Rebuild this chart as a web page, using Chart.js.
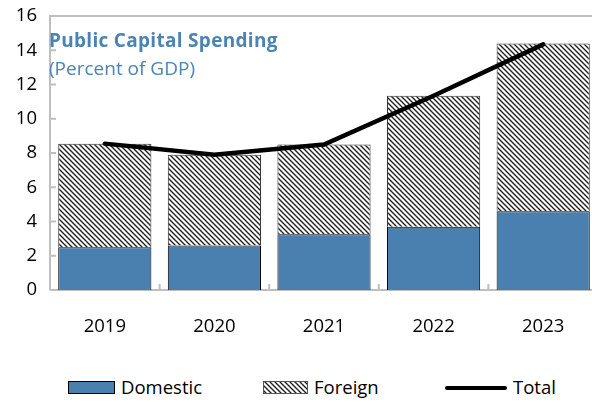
<!DOCTYPE html>
<html>
<head>
<meta charset="utf-8">
<script src="https://cdn.jsdelivr.net/npm/chart.js@4/dist/chart.umd.min.js"></script>
<style>
  html, body { margin: 0; padding: 0; background: #fff; overflow: hidden; }
  body { width: 592px; height: 402px; position: relative; font-family: 'Open Sans', sans-serif; }
  #wrap { position: absolute; left: 0; top: 0; width: 600px; height: 350px; }
  .title { position: absolute; left: 49px; color: #4a84b5; font-size: 19px; white-space: nowrap; }
  .legend { position: absolute; top: 375px; height: 24px; font-size: 18.5px; color: #000; line-height: 24px; white-space: nowrap; }
  .legend canvas { vertical-align: middle; margin-right: 6px; position: relative; top: -2px; }
</style>
</head>
<body>
<div id="wrap"><canvas id="chart"></canvas></div>
<div class="title" style="top:27px;font-weight:bold;letter-spacing:0.3px;">Public Capital Spending</div>
<div class="title" style="top:55px;">(Percent of GDP)</div>
<div class="legend" style="left:68px;"><canvas id="lgDom" width="47" height="14"></canvas>Domestic</div>
<div class="legend" style="left:263px;"><canvas id="lgFor" width="45" height="14"></canvas>Foreign</div>
<div class="legend" style="left:445px;"><canvas id="lgTot" width="62" height="14"></canvas>Total</div>
<script>
const years = ['2019', '2020', '2021', '2022', '2023'];
const domestic = [2.5, 2.6, 3.25, 3.7, 4.6];
const foreign = [6.05, 5.3, 5.25, 7.65, 9.8];
const total = [8.55, 7.9, 8.5, 11.35, 14.35];
const yTicks = [0, 2, 4, 6, 8, 10, 12, 14, 16];

const blue = '#4a80b0';

function hatch() {
  const c = document.createElement('canvas');
  c.width = 5; c.height = 5;
  const g = c.getContext('2d');
  g.fillStyle = '#fff';
  g.fillRect(0, 0, 5, 5);
  g.strokeStyle = '#222';
  g.lineWidth = 1.4;
  g.beginPath();
  g.moveTo(-1, -1); g.lineTo(6, 6);
  g.moveTo(-1, 4); g.lineTo(1, 6);
  g.moveTo(4, -1); g.lineTo(6, 1);
  g.stroke();
  return g.createPattern(c, 'repeat');
}
const hatchFill = hatch();

// legend swatches
(function () {
  let g = document.getElementById('lgDom').getContext('2d');
  g.fillStyle = blue; g.fillRect(0.5, 1.5, 46, 12);
  g.strokeStyle = '#000'; g.lineWidth = 1; g.strokeRect(0.5, 1.5, 46, 12);
  g = document.getElementById('lgFor').getContext('2d');
  g.fillStyle = hatch(); g.fillRect(0.5, 1.5, 44, 12);
  g.strokeStyle = '#555'; g.strokeRect(0.5, 1.5, 44, 12);
  g = document.getElementById('lgTot').getContext('2d');
  g.strokeStyle = '#000'; g.lineWidth = 4; g.lineCap = 'round';
  g.beginPath(); g.moveTo(2, 8); g.lineTo(60, 8); g.stroke();
})();

const frame = {
  id: 'frame',
  beforeDatasetsDraw(chart) {
    const { ctx, chartArea: a, scales } = chart;
    ctx.save();
    ctx.strokeStyle = '#bfbfbf';
    ctx.lineWidth = 2;
    ctx.beginPath();
    ctx.moveTo(a.left, a.bottom); ctx.lineTo(a.left, a.top); ctx.lineTo(a.right + 5, a.top);
    ctx.moveTo(a.left, a.bottom); ctx.lineTo(a.right + 5, a.bottom);
    yTicks.forEach(v => {
      const y = scales.y.getPixelForValue(v);
      ctx.moveTo(a.left, y); ctx.lineTo(a.left + 6, y);
    });
    for (let i = 1; i < years.length; i++) {
      const x = (scales.x.getPixelForValue(i - 1) + scales.x.getPixelForValue(i)) / 2;
      ctx.moveTo(x, a.bottom); ctx.lineTo(x, a.bottom - 6);
    }
    ctx.stroke();
    ctx.restore();
  }
};

new Chart(document.getElementById('chart'), {
  data: {
    labels: years,
    datasets: [
      { type: 'line', label: 'Total', data: total, borderColor: '#000', borderWidth: 4.5,
        pointRadius: 0, tension: 0, order: 0, borderCapStyle: 'round' },
      { type: 'bar', label: 'Domestic', data: domestic, backgroundColor: blue,
        borderColor: '#000', borderWidth: 1, order: 1 },
      { type: 'bar', label: 'Foreign', data: foreign, backgroundColor: hatchFill,
        borderColor: '#333', borderWidth: 1, order: 1 }
    ]
  },
  options: {
    responsive: true,
    maintainAspectRatio: false,
    animation: false,
    layout: { padding: { top: 16, right: 2, left: 0, bottom: 0 } },
    datasets: { bar: { barPercentage: 0.85, categoryPercentage: 1 } },
    plugins: { legend: { display: false }, tooltip: { enabled: false } },
    scales: {
      x: {
        stacked: true,
        grid: { display: false },
        border: { display: false },
        ticks: { color: '#000', font: { family: 'Open Sans', size: 18.5 }, padding: 18 },
        afterFit(s) { s.height = 60; }
      },
      y: {
        stacked: true,
        min: 0, max: 16,
        afterBuildTicks(s) { s.ticks = yTicks.map(v => ({ value: v })); },
        grid: { display: false },
        border: { display: false },
        ticks: { color: '#000', font: { family: 'Open Sans', size: 18.5 }, padding: 5 },
        afterFit(s) { s.width = 50; }
      }
    }
  },
  plugins: [frame]
});
</script>
</body>
</html>
